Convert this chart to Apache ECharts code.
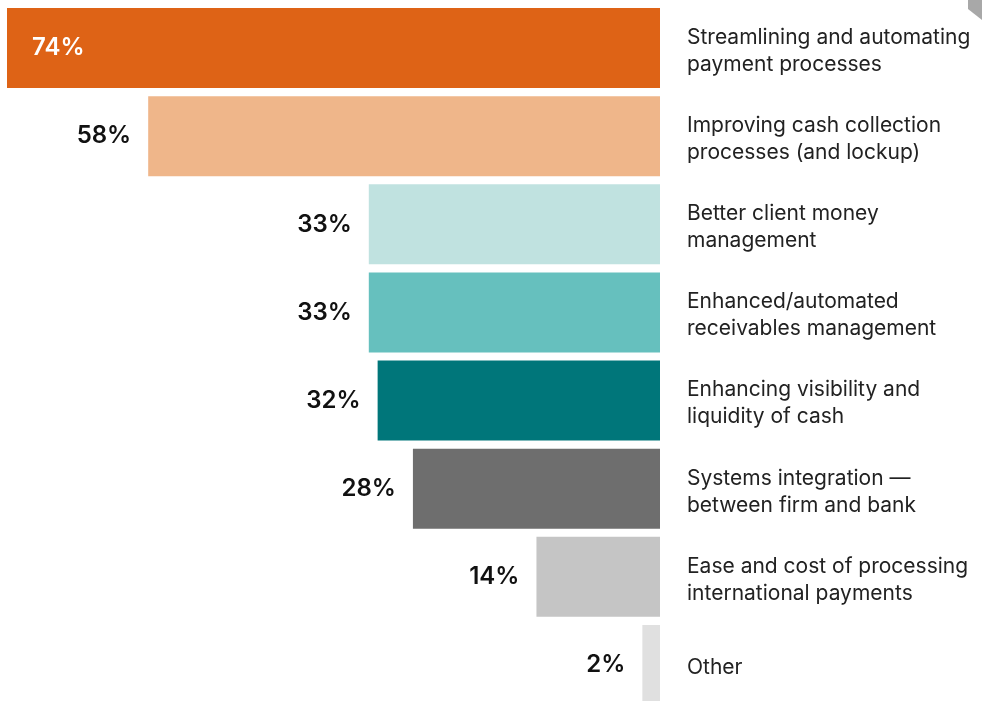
<!DOCTYPE html>
<html>
<head>
<meta charset="utf-8">
<title>Priorities</title>
<script src="https://cdn.jsdelivr.net/npm/echarts@6/dist/echarts.min.js"></script>
<style>
  html, body { margin: 0; padding: 0; background: #ffffff; }
  #chart { width: 982px; height: 701px; }
</style>
</head>
<body>
<div id="chart"></div>
<script>
// Survey answers, top to bottom
const categories = [
  'Streamlining and automating\npayment processes',
  'Improving cash collection\nprocesses (and lockup)',
  'Better client money\nmanagement',
  'Enhanced/automated\nreceivables management',
  'Enhancing visibility and\nliquidity of cash',
  'Systems integration \u2014\nbetween firm and bank',
  'Ease and cost of processing\ninternational payments',
  'Other'
];
const shares = [74, 58, 33, 33, 32, 28, 14, 2];

const barColors = ['#DE6316', '#EFB68A', '#C0E2E0', '#66C0BE', '#00767A', '#6E6E6E', '#C5C5C5', '#E0E0E0'];
const FONT = 'Inter, "Noto Sans", sans-serif';

const chart = echarts.init(document.getElementById('chart'), null, { renderer: 'canvas' });

const barData = shares.map((v, i) => {
  const item = { value: v, itemStyle: { color: barColors[i] } };
  if (i === 0) {
    // the widest bar carries its value inside, in white
    item.label = { position: 'insideLeft', distance: 25, color: '#ffffff' };
  }
  return item;
});

// a thin spacer line on top nudges each text block slightly below the bar centre
function categoryLabel(text) {
  const lines = text.split('\n');
  const spacer = lines.length > 1 ? '{sp| }' : '{sp1| }';
  return [spacer].concat(lines.map(l => '{t|' + l + '}')).join('\n');
}

chart.setOption({
  animation: false,
  backgroundColor: '#ffffff',
  // the last band runs a little past the bottom edge of the canvas
  grid: { left: 7, right: 322, top: 4, height: 705, containLabel: false, outerBoundsMode: 'none' },
  xAxis: {
    type: 'value',
    min: 0,
    max: 74,
    inverse: true,
    show: false
  },
  yAxis: {
    type: 'category',
    data: categories,
    inverse: true,
    position: 'right',
    axisLine: { show: false },
    axisTick: { show: false },
    splitLine: { show: false },
    axisLabel: {
      margin: 27,
      align: 'left',
      color: '#222222',
      fontFamily: FONT,
      fontSize: 21,
      lineHeight: 27,
      formatter: categoryLabel,
      rich: {
        sp: { fontSize: 4, lineHeight: 6 },
        sp1: { fontSize: 4, lineHeight: 5 },
        t: { color: '#222222', fontFamily: FONT, fontSize: 21, lineHeight: 27 }
      }
    }
  },
  series: [{
    type: 'bar',
    data: barData,
    barWidth: 80,
    label: {
      show: true,
      position: 'left',
      distance: 17,
      formatter: '{c}%',
      color: '#111111',
      fontFamily: FONT,
      fontSize: 24,
      fontWeight: 600
    }
  }],
  graphic: [{
    type: 'polygon',
    shape: { points: [[968, 0], [982, 0], [982, 20], [968, 9]] },
    style: { fill: '#A8A8A8' },
    silent: true
  }]
});
</script>
</body>
</html>
